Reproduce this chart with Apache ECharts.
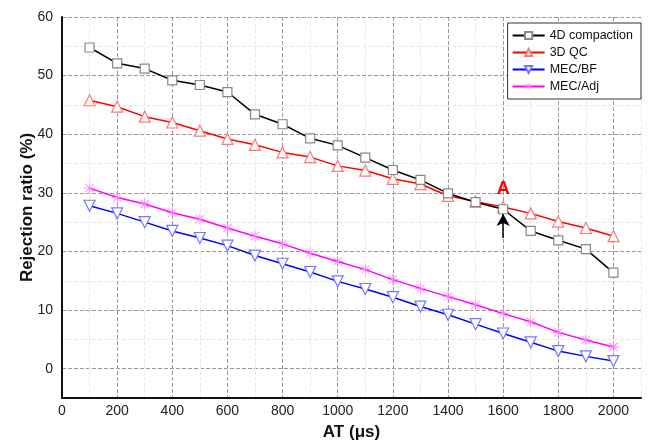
<!DOCTYPE html>
<html><head><meta charset="utf-8">
<script src="https://cdn.jsdelivr.net/npm/echarts@6/dist/echarts.min.js"></script>
<style>html,body{margin:0;padding:0;background:#fff}#c{width:648px;height:443px}</style>
</head><body><div id="c"></div>
<script>
const atValues = [100,200,300,400,500,600,700,800,900,1000,1100,1200,1300,1400,1500,1600,1700,1800,1900,2000];
const compaction4D = [54.8,52.1,51.2,49.2,48.4,47.2,43.4,41.7,39.3,38.1,36.0,33.9,32.2,29.9,28.4,27.2,23.5,21.9,20.4,16.4];
const qc3D = [45.8,44.7,43.0,42.0,40.6,39.2,38.2,36.9,36.1,34.6,33.8,32.4,31.5,29.5,28.5,27.6,26.5,25.1,24.0,22.6];
const mecBF = [27.8,26.5,25.0,23.5,22.3,21.0,19.3,17.9,16.5,14.9,13.6,12.2,10.6,9.2,7.6,6.0,4.5,3.0,2.1,1.3];
const mecAdj = [30.8,29.2,28.1,26.6,25.5,24.0,22.6,21.3,19.7,18.3,16.9,15.2,13.7,12.3,10.9,9.4,8.0,6.2,4.9,3.7];
const seriesNames = ['4D compaction','3D QC','MEC/BF','MEC/Adj'];
const annotX = 1600, annotLabelY = 30.6, arrowFrom = 22.3, arrowTo = 26.4;

const pair = arr => atValues.map((x,i)=>[x, arr[i]]);
const asterisk = 'path://M9.3 0L10.7 0L10.7 20L9.3 20ZM0 9.3L20 9.3L20 10.7L0 10.7ZM2 3L3 2L18 17L17 18ZM17 2L18 3L3 18L2 17Z';

const chart = echarts.init(document.getElementById('c'));
chart.setOption({
  animation:false,
  backgroundColor:'#fff',
  grid:{left:62,right:7,top:17,bottom:45,outerBoundsMode:'none',containLabel:false},
  legend:{
    orient:'vertical', right:7, top:23, itemWidth:32, itemHeight:9, itemGap:4,
    backgroundColor:'#fff', borderColor:'#333', borderWidth:1, padding:[6,8,6,4],
    textStyle:{fontFamily:'Liberation Sans, Arial', fontSize:12.5, color:'#111'},
    data:seriesNames
  },
  xAxis:{
    type:'value', min:0, max:2100, interval:100,
    name:'AT (μs)', nameLocation:'middle', nameGap:26, nameMoveOverlap:false,
    nameTextStyle:{fontFamily:'Liberation Sans, Arial', fontSize:17, fontWeight:'bold', color:'#111'},
    axisLine:{show:true, onZero:false, lineStyle:{color:'#111', width:2}},
    axisTick:{show:false},
    axisLabel:{margin:6, fontFamily:'Liberation Sans, Arial', fontSize:14, color:'#222',
      formatter:v=> (v%200===0 ? String(v) : '')},
    splitLine:{show:true, lineStyle:{type:'dashed', color:['#9a9a9a','#e8e8e8'], width:1}}
  },
  yAxis:{
    type:'value', min:-5, max:60, interval:5,
    name:'Rejection ratio (%)', nameLocation:'middle', nameGap:26, nameRotate:90, nameMoveOverlap:false,
    nameTextStyle:{fontFamily:'Liberation Sans, Arial', fontSize:17, fontWeight:'bold', color:'#111'},
    axisLine:{show:true, onZero:false, lineStyle:{color:'#111', width:2}},
    axisTick:{show:false},
    axisLabel:{margin:9, fontFamily:'Liberation Sans, Arial', fontSize:14, color:'#222',
      formatter:v=> (v%10===0 ? String(v) : '')},
    splitLine:{show:true, lineStyle:{type:'dashed', color:['#e8e8e8','#9a9a9a'], width:1}}
  },
  series:[
    {name:seriesNames[0], type:'line', data:pair(compaction4D), symbol:'rect', symbolSize:9,
     lineStyle:{color:'#000', width:1.5}, itemStyle:{color:'#fff', borderColor:'#888', borderWidth:1.2}, z:4},
    {name:seriesNames[1], type:'line', data:pair(qc3D), symbol:'triangle', symbolSize:11,
     lineStyle:{color:'#f00', width:1.5}, itemStyle:{color:'#fff', borderColor:'#f77', borderWidth:1.2}, z:3,
     markPoint:{symbol:'circle', symbolSize:0,
       data:[{coord:[annotX, annotLabelY], value:'A'}],
       label:{show:true, formatter:'A', color:'#f00', fontSize:18, fontWeight:'bold', fontFamily:'Liberation Sans, Arial'}},
     markLine:{silent:true, symbol:['none','arrow'], symbolSize:[10,12],
       lineStyle:{color:'#000', width:1.5, type:'solid'}, label:{show:false},
       data:[[{coord:[annotX, arrowFrom]},{coord:[annotX, arrowTo]}]]}},
    {name:seriesNames[2], type:'line', data:pair(mecBF), symbol:'triangle', symbolRotate:180, symbolSize:11,
     lineStyle:{color:'#00f', width:1.5}, itemStyle:{color:'#fff', borderColor:'#77f', borderWidth:1.2}, z:3},
    {name:seriesNames[3], type:'line', data:pair(mecAdj), symbol:asterisk, symbolSize:11,
     lineStyle:{color:'#f0f', width:1.5}, itemStyle:{color:'#f7f', borderWidth:0}, z:3}
  ]
});
</script></body></html>
